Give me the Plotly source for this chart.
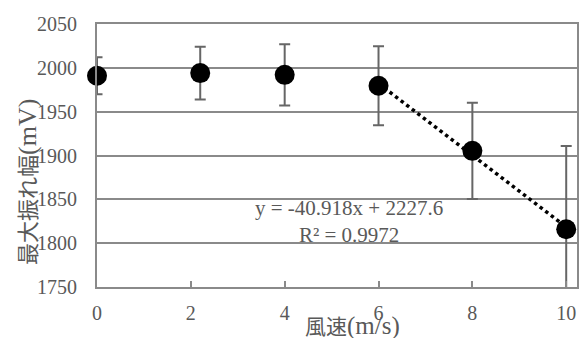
import numpy as np
import plotly.graph_objects as go

wind_speed = [0, 2.2, 4, 6, 8, 10]
max_amplitude = [1991, 1994, 1992, 1979.6, 1905.3, 1815.9]
error_values = [21, 30, 35, 45, 55, 95]
fit_x = [6, 8, 10]
x_ticks = [0, 2, 4, 6, 8, 10]
y_ticks = [1750, 1800, 1850, 1900, 1950, 2000, 2050]

FONT = "Liberation Serif, 'Times New Roman', 'Noto Sans CJK JP', serif"
TXT = "#595959"
GRID = "#8a8a8a"

fit_y_data = [max_amplitude[wind_speed.index(v)] for v in fit_x]
slope, intercept = np.polyfit(fit_x, fit_y_data, 1)
trend_x = [fit_x[0], fit_x[-1]]
trend_y = [slope * v + intercept for v in trend_x]

fig = go.Figure()
# error bars (clipped to plot area)
fig.add_trace(go.Scatter(
    x=wind_speed, y=max_amplitude, mode="markers",
    marker=dict(size=1, opacity=0),
    error_y=dict(type="data", array=error_values, visible=True,
                 color="#666666", thickness=2, width=5.5),
    cliponaxis=True, hoverinfo="skip", showlegend=False))
# trendline
fig.add_trace(go.Scatter(
    x=trend_x, y=trend_y, mode="lines",
    line=dict(color="black", width=3.5, dash="3.5px,3.5px"),
    showlegend=False))
# markers
fig.add_trace(go.Scatter(
    x=wind_speed, y=max_amplitude, mode="markers",
    marker=dict(size=20, color="black"),
    cliponaxis=False, showlegend=False))

fig.update_layout(
    width=580, height=338,
    margin=dict(l=97, r=1, t=24, b=51),
    paper_bgcolor="white", plot_bgcolor="white",
    font=dict(family=FONT, color=TXT, size=20),
    xaxis=dict(range=[0, 10.23], tickvals=x_ticks, showgrid=False,
               showline=True, linecolor=GRID, linewidth=2, mirror=True,
               ticks="inside", ticklen=6, tickwidth=1.5, tickcolor=GRID,
               ticklabelstandoff=7, zeroline=False,
               tickfont=dict(family=FONT, size=20, color=TXT)),
    yaxis=dict(range=[1750, 2050], tickvals=y_ticks, showgrid=True,
               gridcolor=GRID, gridwidth=1.5,
               showline=True, linecolor=GRID, linewidth=2, mirror=True,
               ticks="", ticklabelstandoff=14, zeroline=False,
               tickfont=dict(family=FONT, size=20, color=TXT)),
    annotations=[
        dict(text='風速<span style="font-size:25px">(m/s)</span>',
             xref="paper", yref="paper", x=0.532, y=-0.148,
             showarrow=False, xanchor="center", yanchor="middle",
             font=dict(family=FONT, size=21, color=TXT)),
        dict(text='最大振れ幅<span style="font-size:26px">(mV)</span>',
             xref="paper", yref="paper", x=-0.145, y=0.401,
             showarrow=False, xanchor="center", yanchor="middle", textangle=-90,
             font=dict(family=FONT, size=22, color=TXT)),
        dict(text="y = -40.918x + 2227.6<br>R² = 0.9972", xref="paper", yref="paper",
             x=0.526, y=0.249, showarrow=False, xanchor="center", yanchor="middle",
             align="center", font=dict(family=FONT, size=21, color=TXT)),
    ],
)

fig.write_html(
    "out.html",
    config={"displayModeBar": False},
    post_script="document.body.style.margin='0';document.body.style.overflow='hidden';",
)
